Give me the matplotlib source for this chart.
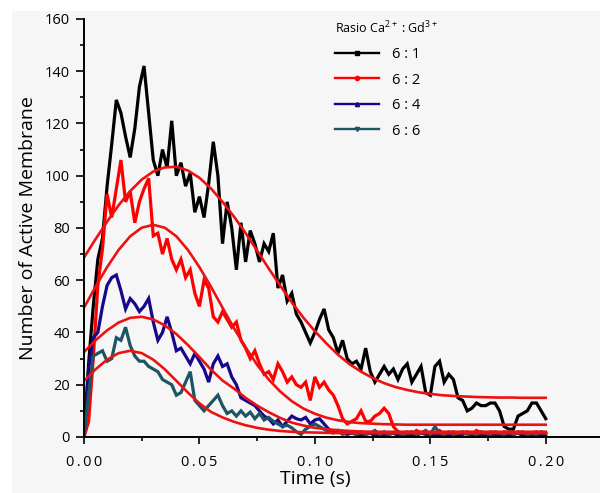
import numpy as np
import matplotlib
matplotlib.use('Agg')
import matplotlib.pyplot as plt
from matplotlib.lines import Line2D
from matplotlib.patches import Rectangle
from matplotlib.ticker import MultipleLocator, FixedLocator

plt.rcParams['font.family'] = ['Open Sans', 'DejaVu Sans']
plt.rcParams['mathtext.fontset'] = 'custom'
plt.rcParams['mathtext.rm'] = 'Open Sans'
plt.rcParams['mathtext.it'] = 'Open Sans:italic'

# sampled traces, one value every 0.002 s from 0 to 0.2 s
time_s = np.arange(101) * 0.002

ratio_6_1 = [0, 28, 50, 68, 76, 96, 112, 129, 124, 115,
             107, 118, 134, 142, 124, 106, 100, 110, 103, 121,
             100, 105, 96, 101, 86, 92, 84, 97, 113, 100,
             74, 90, 80, 64, 82, 67, 79, 74, 67, 74,
             71, 78, 57, 62, 52, 55, 47, 44, 40, 36,
             40, 45, 49, 41, 38, 32, 37, 30, 28, 29,
             26, 34, 25, 21, 24, 27, 24, 26, 22, 26,
             28, 21, 24, 27, 17, 16, 27, 29, 21, 24,
             22, 15, 14, 10, 11, 13, 12, 12, 13, 13,
             10, 4, 3, 3, 8, 9, 10, 13, 13, 10,
             7]

ratio_6_2 = [0, 6, 30, 58, 72, 93, 84, 95, 106, 90,
             94, 82, 90, 95, 99, 77, 78, 70, 76, 68,
             64, 68, 61, 64, 55, 50, 60, 57, 46, 44,
             48, 45, 42, 44, 37, 34, 30, 33, 28, 24,
             25, 22, 28, 25, 21, 23, 20, 19, 21, 14,
             23, 19, 21, 18, 16, 12, 7, 5, 6, 7,
             10, 6, 6, 8, 9, 11, 9, 4, 2, 1.5,
             2, 1, 2.5, 1.5, 2, 1, 1.5, 2.5, 1, 1.5,
             2, 1, 1.5, 2, 1, 2.5, 1.5, 1, 2, 1.5,
             1, 2, 1.5, 1, 2, 1.5, 1, 1.5, 2, 1,
             1.5]

ratio_6_4 = [0, 26, 38, 40, 50, 58, 61, 62, 56, 49,
             53, 51, 48, 50, 53, 44, 37, 40, 46, 40,
             33, 34, 31, 28, 32, 29, 26, 21, 28, 31,
             27, 28, 23, 20, 15, 14, 13, 12, 10, 8,
             7, 5, 6.5, 4, 6, 8, 7, 6.5, 7.5, 5,
             6.5, 7, 5, 3, 2, 2.5, 1.5, 1, 1.5, 1,
             0.5, 1, 1.5, 0.5, 1, 0.5, 1, 1.5, 0.5, 1,
             0.5, 1, 0.5, 1.5, 1, 0.5, 1, 0.5, 1, 0.5,
             1, 0.5, 1, 1.5, 0.5, 1, 0.5, 1, 0.5, 1,
             0.5, 1, 0.5, 1, 1.5, 0.5, 1, 0.5, 1, 0.5,
             0.5]

ratio_6_6 = [0, 16, 31, 32, 33, 29, 30, 38, 37, 42,
             35, 31, 29, 29, 27, 26, 25, 22, 21, 20,
             16, 17, 21, 25, 14, 12, 10, 12, 14, 16,
             12, 9, 10, 8, 10, 8, 9.5, 7, 9, 6.5,
             7.5, 6, 5, 4, 4.5, 3.5, 2, 1, 3, 4,
             5, 4, 3, 2, 1.5, 2.5, 1, 2, 1.5, 1,
             2, 1, 1.5, 2.5, 1, 2, 1, 1.5, 2, 1,
             1.5, 2, 1, 1.5, 2.5, 1, 4, 1.5, 1, 2,
             1, 1.5, 2, 1, 1.5, 1, 2, 1.5, 1, 2,
             1.5, 1, 2, 1, 1.5, 2, 1, 1.5, 1, 2,
             1.5]

# fitted curves, one value every 0.005 s
fit_time = np.arange(41) * 0.005

fit_6_1 = [68.7, 75.7, 82.4, 88.7, 94.1, 98.5, 101.6, 103.2, 103.4, 102.0,
           99.2, 95.1, 90.0, 84.3, 78.0, 71.3, 64.5, 57.9, 51.5, 45.7,
           40.5, 35.8, 31.5, 27.9, 25.0, 22.6, 20.6, 19.1, 18.0, 17.1,
           16.5, 16.0, 15.7, 15.5, 15.3, 15.2, 15.1, 15.1, 15.0, 15.0,
           15.0]
fit_6_2 = [49.5, 57.5, 65.0, 71.6, 76.8, 80.1, 81.2, 80.1, 76.8, 71.6,
           65.0, 57.5, 49.5, 41.6, 34.3, 27.6, 22.0, 17.4, 13.7, 10.9,
           8.9, 7.4, 6.4, 5.7, 5.3, 5.1, 4.9, 4.8, 4.7, 4.7,
           4.7, 4.7, 4.7, 4.7, 4.7, 4.7, 4.7, 4.7, 4.7, 4.7,
           4.7]
fit_6_4 = [32.5, 37.0, 40.8, 43.8, 45.6, 46.0, 45.0, 42.7, 39.4, 35.2,
           30.6, 25.8, 21.6, 18.5, 15.0, 12.0, 9.5, 7.3, 5.5, 4.4,
           3.5, 3.0, 2.6, 2.3, 2.1, 2.0, 2.0, 2.0, 2.0, 2.0,
           2.0, 2.0, 2.0, 2.0, 2.0, 2.0, 2.0, 2.0, 2.0, 2.0,
           2.0]
fit_6_6 = [21.5, 25.9, 29.6, 32.1, 33.0, 32.1, 29.6, 25.9, 21.5, 17.0,
           12.9, 9.6, 7.5, 5.8, 4.5, 3.5, 2.8, 2.3, 2.0, 1.8,
           1.7, 1.6, 1.5, 1.5, 1.5, 1.5, 1.5, 1.5, 1.5, 1.5,
           1.5, 1.5, 1.5, 1.5, 1.5, 1.5, 1.5, 1.5, 1.5, 1.5,
           1.5]

labels = ['6 : 1', '6 : 2', '6 : 4', '6 : 6']
colors = ['#000000', '#ff0000', '#16088a', '#1c5563']
markers = ['s', 'o', '^', 'v']
fit_color = '#ee1111'

fig = plt.figure(figsize=(6, 4.93), dpi=100)
fig.patch.set_facecolor('white')
# light grey panel behind everything
fig.patches.append(Rectangle((0.02, 0), 0.98, 0.978, transform=fig.transFigure,
                             facecolor='#f6f6f6', edgecolor='none', zorder=-10))

ax = fig.add_axes([0.14, 0.1136, 0.86, 0.848])
ax.set_facecolor('none')

for series, c in zip([ratio_6_1, ratio_6_2, ratio_6_4, ratio_6_6], colors):
    ax.plot(time_s, series, color=c, lw=2.3, solid_joinstyle='miter')

for fit in [fit_6_1, fit_6_2, fit_6_4, fit_6_6]:
    ax.plot(fit_time, fit, color=fit_color, lw=1.9)

ax.set_xlim(0, 0.2235)
ax.set_ylim(0, 160)

for side in ['top', 'right']:
    ax.spines[side].set_visible(False)
for side in ['left', 'bottom']:
    ax.spines[side].set_linewidth(1.4)

ax.yaxis.set_major_locator(MultipleLocator(20))
ax.yaxis.set_minor_locator(MultipleLocator(10))
ax.xaxis.set_major_locator(FixedLocator([0, 0.05, 0.10, 0.15, 0.20]))
ax.xaxis.set_minor_locator(FixedLocator([0.025, 0.075, 0.125, 0.175]))
ax.set_xticklabels(['0\u2009.\u20090\u20090', '0\u2009.\u20090\u20095', '0\u2009.\u20091\u20090',
                    '0\u2009.\u20091\u20095', '0\u2009.\u20092\u20090'])
ax.tick_params(which='major', direction='out', length=6, width=1.2, labelsize=10.5, pad=4)
ax.tick_params(which='minor', direction='out', length=3, width=1.2)
ax.tick_params(axis='x', which='major', length=5, pad=8)

ax.set_ylabel('Number of Active Membrane', fontsize=14, labelpad=6)
ax.set_xlabel('Time (s)', fontsize=14)
ax.xaxis.set_label_coords(0.1 / 0.2235, -0.08)

handles = [Line2D([], [], color=c, lw=1.7, marker=m, markersize=3)
           for c, m in zip(colors, markers)]
leg = ax.legend(handles, labels, title='Rasio Ca$^{2+}$ : Gd$^{3+}$', loc='upper left',
                bbox_to_anchor=(335 / 600, 1 - 20 / 493), bbox_transform=fig.transFigure,
                frameon=False, fontsize=10.5, title_fontsize=9, handlelength=3.0,
                handletextpad=0.9, labelspacing=0.72, borderpad=0, borderaxespad=0,
                alignment='left')

fig.savefig('out.png', dpi=100)
